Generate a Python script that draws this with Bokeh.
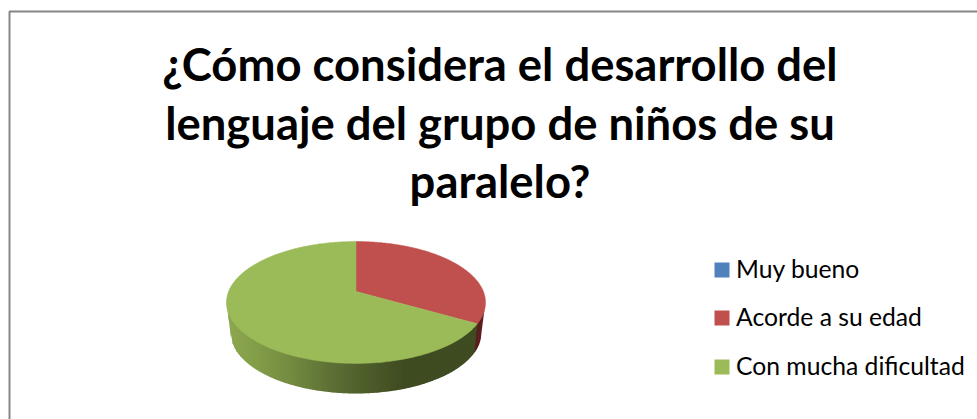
import numpy as np
from bokeh.plotting import figure
from bokeh.models import Range1d
from bokeh.core.properties import value
from bokeh.embed import file_html
from bokeh.resources import INLINE

title_lines = ["¿Cómo considera el desarrollo del", "lenguaje del grupo de niños de su", "paralelo?"]
categories = ["Muy bueno", "Acorde a su edad", "Con mucha dificultad"]
shares = [0.0, 33.3, 66.7]
colors = ["#4F81BD", "#C0504D", "#9BBB59"]

W, H = 977, 419
p = figure(width=W, height=H, output_backend="svg", toolbar_location=None,
           x_range=Range1d(0, W), y_range=Range1d(H, 0), min_border=0)
p.axis.visible = False
p.grid.visible = False
p.outline_line_color = None
p.background_fill_color = "white"
p.border_fill_color = "white"

# frame (continues past the picture at right and bottom)
p.line([9, 9, W], [H, 11, 11], line_color="#868686", line_width=2)

# projected disc: true angle phi clockwise from the top
CX, APEX, A, K, C, B = 355.5, 291.0, 127.4, -6.6, 0.18, 291.0

def top_pt(phi):
    v = np.cos(phi)
    d = 1 + C * v
    return CX + A * np.sin(phi) / d, (K * v + B) / d

def low_y(x):
    t = np.clip((np.asarray(x, float) - CX) / 125.5, -1, 1)
    return 332 + 61 * np.sqrt(1 - t ** 2)

def top_low_y(x):
    t = np.clip((np.asarray(x, float) - CX) / 129.5, -1, 1)
    return 302 + 61 * np.sqrt(1 - t ** 2)

def wall_bottom(x):
    if x < 230:
        return float(np.interp(x, [226, 230], [303, 332]))
    return float(low_y(x))

total = sum(shares)
ends = np.cumsum(shares) / total * 2 * np.pi
starts = np.r_[0, ends[:-1]]

# side wall, drawn as thin vertical strips with a horizontal shade
stops_x = [226, 250, 290, 330, 370, 405, 480]
stops_g = [(0x8D, 0xA8, 0x50), (0x85, 0xA0, 0x4A), (0x74, 0x8B, 0x41), (0x5E, 0x71, 0x35),
           (0x4C, 0x5C, 0x2A), (0x3F, 0x4B, 0x21), (0x40, 0x4C, 0x22)]
bx, by = top_pt(ends[1])
xs, ys, fs = [], [], []
for x0 in np.arange(226, bx, 2.0):
    xa, xb = x0, x0 + 2.6
    xm = x0 + 1.0
    rgb = [np.interp(xm, stops_x, [s[i] for s in stops_g]) for i in range(3)]
    xs.append([xa, xb, xb, xa])
    ys.append([top_low_y(xa) - 1, top_low_y(xb) - 1, wall_bottom(xb), wall_bottom(xa)])
    fs.append("#%02x%02x%02x" % tuple(int(v) for v in rgb))
p.patches(xs, ys, fill_color=fs, line_color=None)

# red part of the wall, right of the slice boundary
rx_top = np.linspace(bx, 485, 12)
rx_low = np.linspace(481, bx - 3, 12)
p.patch(np.r_[rx_top, rx_low], np.r_[top_low_y(rx_top) - 1, low_y(rx_low)],
        fill_color="#5A1F1D", line_color=None)

# top faces
for s, e, c in zip(starts, ends, colors):
    if e - s <= 0:
        continue
    phi = np.linspace(s, e, 240)
    px, py = top_pt(phi)
    p.patch(np.r_[CX, px], np.r_[APEX, py], fill_color=c, line_color=c, line_width=0.5)

# title
for line, y in zip(title_lines, [63, 121.5, 180]):
    p.text([499.5], [y], text=[line], text_font=value("Lato"), text_font_style="bold",
           text_font_size="45.4px", text_align="center", text_baseline="middle", text_color="black")

# legend
for cat, c, ys_, yt in zip(categories, colors, [269.5, 317.5, 366.5], [267.5, 315.5, 364.5]):
    p.quad(left=[714], right=[729], top=[ys_ - 7.5], bottom=[ys_ + 7.5], fill_color=c, line_color=None)
    p.text([735.5], [yt], text=[cat], text_font=value("Lato"), text_font_size="24.7px",
           text_align="left", text_baseline="middle", text_color="black")

open("out.html", "w").write(file_html(p, INLINE))
